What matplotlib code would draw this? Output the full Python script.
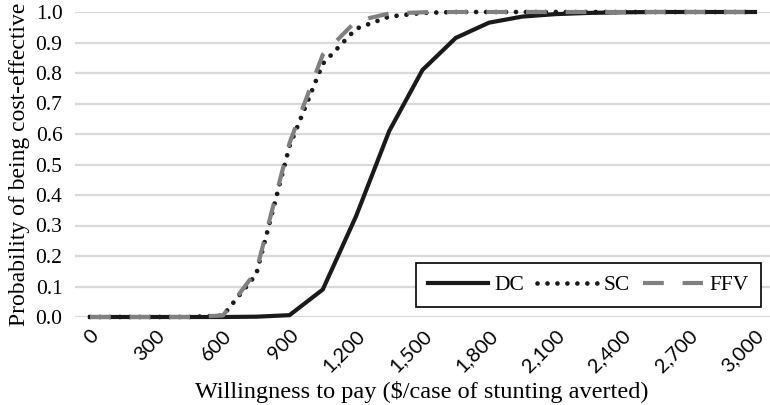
import matplotlib
matplotlib.use("Agg")
import matplotlib.pyplot as plt
from matplotlib.lines import Line2D

# willingness to pay categories ($/case of stunting averted)
wtp = [0, 150, 300, 450, 600, 750, 900, 1050, 1200, 1350, 1500,
       1650, 1800, 1950, 2100, 2250, 2400, 2550, 2700, 2850, 3000]
tick_vals = [0, 300, 600, 900, 1200, 1500, 1800, 2100, 2400, 2700, 3000]

# probability of being cost-effective
dc = [0.0, 0.0, 0.0, 0.0, 0.0, 0.001, 0.006, 0.09, 0.33, 0.61, 0.81,
      0.915, 0.965, 0.985, 0.993, 0.997, 0.999, 1.0, 1.0, 1.0, 1.0]
sc = [0.0, 0.0, 0.0, 0.0, 0.005, 0.14, 0.56, 0.83, 0.945, 0.985, 0.997,
      1.0, 1.0, 1.0, 1.0, 1.0, 1.0, 1.0, 1.0, 1.0, 1.0]
ffv = [0.0, 0.0, 0.0, 0.0, 0.005, 0.15, 0.57, 0.86, 0.97, 0.995, 0.999,
       1.0, 1.0, 1.0, 1.0, 1.0, 1.0, 1.0, 1.0, 1.0, 1.0]

serif = "Liberation Serif"
sans = "Lato"

fig = plt.figure(figsize=(7.7, 4.05), dpi=100)
ax = fig.add_axes([75 / 770, 88 / 405, 695 / 770, 305 / 405])

# gridlines
ax.set_yticks([i / 10 for i in range(11)])
ax.grid(True, axis="y", color="#d9d9d9", linewidth=1.6)
ax.set_axisbelow(True)
for s in ax.spines.values():
    s.set_visible(False)

ax.plot(wtp, dc, color="#1a1a1a", linewidth=3.0, solid_joinstyle="miter",
        clip_on=False, label="DC")
ax.plot(wtp, sc, color="#1a1a1a", linewidth=3.4, linestyle=(0, (0.01, 2.1)),
        dash_capstyle="round", clip_on=False, label="SC")
ax.plot(wtp, ffv, color="#808080", linewidth=3.0, linestyle=(0, (5, 4.5)),
        clip_on=False, label="FFV")

ax.set_xlim(-67.7, 3067.7)
ax.set_ylim(0, 1.0)

ax.set_xticks(tick_vals)
ax.set_xticklabels([f"{v:,}" for v in tick_vals], rotation=45, ha="right",
                   va="top", rotation_mode="anchor", fontfamily=sans, fontsize=14.5)
ax.set_yticklabels([f"{i / 10:.1f}" for i in range(11)], fontfamily=serif, fontsize=15.5)
ax.tick_params(axis="both", length=0)
ax.tick_params(axis="y", pad=9)
ax.tick_params(axis="x", pad=7)

fig.text(422 / 770, 7 / 405, "Willingness to pay ($/case of stunting averted)",
         fontfamily=serif, fontsize=17.5, ha="center", va="baseline")
ax.set_ylabel("Probability of being cost-effective", fontfamily=serif,
              fontsize=17, labelpad=4)

handles = [
    Line2D([], [], color="#1a1a1a", linewidth=3.0),
    Line2D([], [], color="#1a1a1a", linewidth=3.4, linestyle=(0, (0.01, 2.1)),
           dash_capstyle="round"),
    Line2D([], [], color="#808080", linewidth=3.0, linestyle=(0, (5, 4.5))),
]
leg = ax.legend(handles, ["DC", "SC", "FFV"], ncol=3, loc="lower right",
                bbox_to_anchor=(0.987, 0.033), prop={"family": serif, "size": 15.5},
                frameon=True, fancybox=False, handlelength=2.8, handletextpad=0.3,
                columnspacing=0.6, borderpad=0.55, borderaxespad=0)
leg.get_frame().set_edgecolor("black")
leg.get_frame().set_linewidth(1.2)
leg.get_frame().set_alpha(1)

fig.savefig("out.png", dpi=100)
